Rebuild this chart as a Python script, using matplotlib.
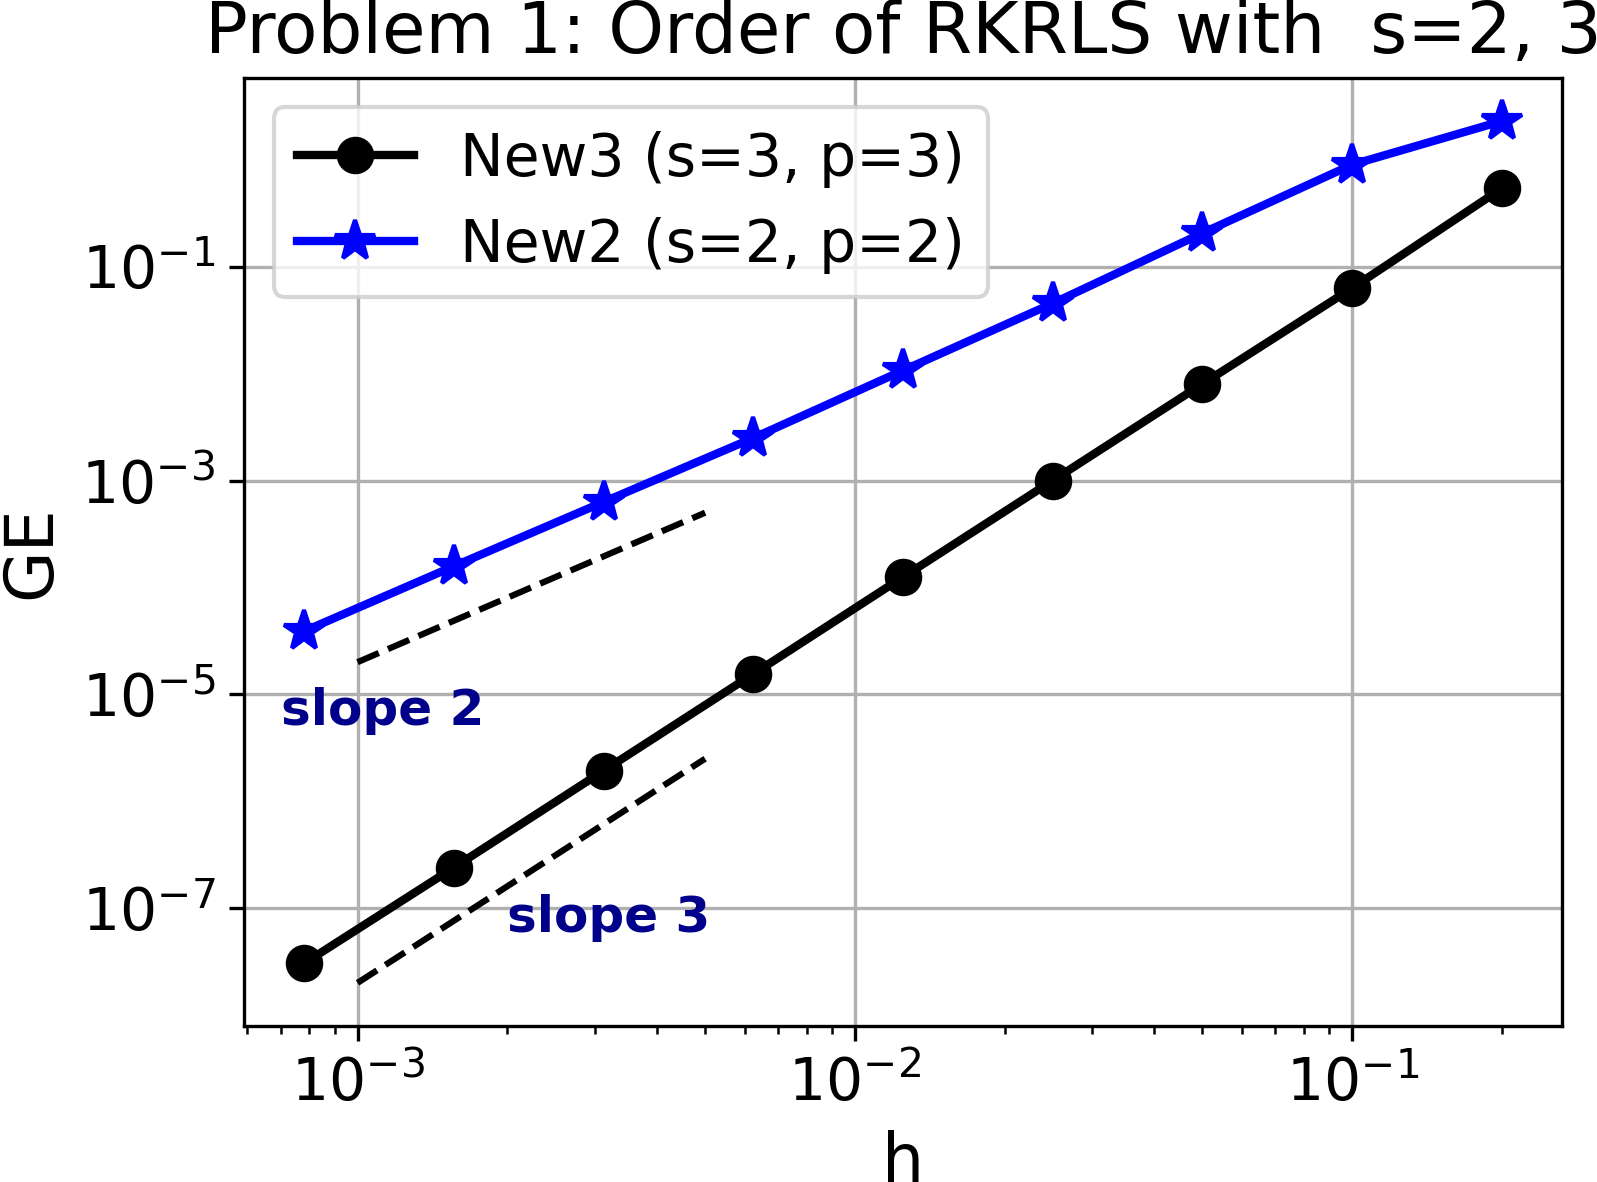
import matplotlib
matplotlib.use("Agg")
import matplotlib.pyplot as plt

# step sizes
h = [0.2, 0.1, 0.05, 0.025, 0.0125, 0.00625, 0.003125, 0.0015625, 0.00078125]

# global errors
ge_new3 = [0.54, 0.063, 8.0e-3, 1.0e-3, 1.25e-4, 1.55e-5, 1.93e-6, 2.4e-7, 3.05e-8]
ge_new2 = [2.3, 0.9, 0.206, 0.0454, 0.0107, 2.5e-3, 6.3e-4, 1.58e-4, 3.9e-5]

# reference slope lines
h_ref = [1e-3, 5e-3]
ref_slope2 = [2e-5, 5e-4]
ref_slope3 = [2e-8, 2.5e-6]

fig = plt.figure(figsize=(1597 / 300, 1182 / 300), dpi=300)
ax = fig.add_axes([0.153, 0.132, 0.8249, 0.802])

ax.loglog(h, ge_new3, "ko-", lw=2, markersize=8, label="New3 (s=3, p=3)")
ax.loglog(h, ge_new2, "b*-", lw=2, markersize=10, label="New2 (s=2, p=2)")
ax.loglog(h_ref, ref_slope2, "k--", lw=1.5)
ax.loglog(h_ref, ref_slope3, "k--", lw=1.5)

ax.text(7e-4, 5.2e-6, "slope 2", color="darkblue", fontsize=12, fontweight="bold")
ax.text(2e-3, 6e-8, "slope 3", color="darkblue", fontsize=12, fontweight="bold")

ax.set_title("Problem 1: Order of RKRLS with  s=2, 3", fontsize=17)
ax.set_xlabel("h", fontsize=16)
ax.set_ylabel("GE", fontsize=16)
ax.tick_params(labelsize=14)
ax.grid(True)
ax.legend(loc="upper left", fontsize=14)

fig.savefig("out.png", dpi=300)
